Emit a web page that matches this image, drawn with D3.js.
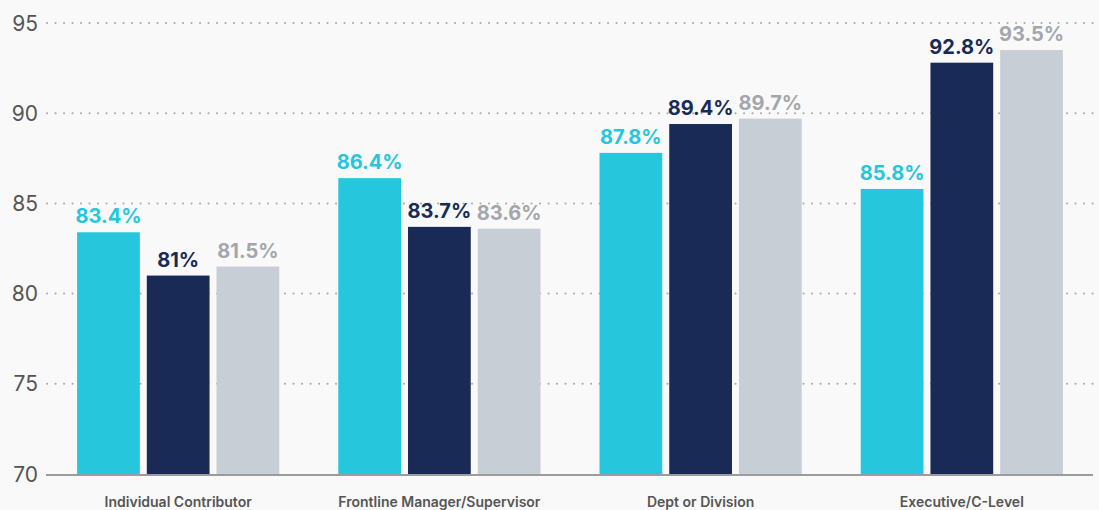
<!DOCTYPE html>
<html>
<head>
  <meta charset="utf-8">
  <script src="https://d3js.org/d3.v7.min.js"></script>
  <style>
    body { margin: 0; background: #f9f9f9; }
    svg { display: block; font-family: Inter, Roboto, "Noto Sans", sans-serif; }
  </style>
</head>
<body>
<svg id="chart"></svg>
<script>
  // data
  var categories = ["Individual Contributor", "Frontline Manager/Supervisor", "Dept or Division", "Executive/C-Level"];
  var seriesA = [83.4, 86.4, 87.8, 85.8];
  var seriesB = [81, 83.7, 89.4, 92.8];
  var seriesC = [81.5, 83.6, 89.7, 93.5];
  var yTicks = [70, 75, 80, 85, 90, 95];

  var series = [
    { key: "a", values: seriesA, fill: "#26c6dc", text: "#26c6dc" },
    { key: "b", values: seriesB, fill: "#182a55", text: "#182a55" },
    { key: "c", values: seriesC, fill: "#c7ced6", text: "#a3a7ab" }
  ];

  var width = 1099, height = 510;
  var mLeft = 46, mRight = 1094, mTop = 23, mBottom = 474;

  var svg = d3.select("#chart")
    .attr("width", width)
    .attr("height", height);

  svg.append("rect")
    .attr("width", width).attr("height", height)
    .attr("fill", "#f9f9f9");

  var y = d3.scaleLinear().domain([70, 95]).range([mBottom, mTop]);

  var x0 = d3.scaleBand()
    .domain(categories)
    .range([mLeft, mRight])
    .paddingInner(0.226)
    .paddingOuter(0.119);

  var x1 = d3.scaleBand()
    .domain(series.map(s => s.key))
    .range([0, x0.bandwidth()])
    .paddingInner(0.1);

  // dotted gridlines
  svg.append("g")
    .selectAll("line")
    .data(yTicks.filter(t => t > 70))
    .enter()
    .append("line")
    .attr("x1", mLeft + 1)
    .attr("x2", width - 2)
    .attr("y1", d => y(d))
    .attr("y2", d => y(d))
    .attr("stroke", "#a9a9a9")
    .attr("stroke-width", 2)
    .attr("stroke-linecap", "round")
    .attr("stroke-dasharray", "0.1,8.4");

  // y labels
  svg.append("g")
    .selectAll("text")
    .data(yTicks)
    .enter()
    .append("text")
    .attr("x", 38)
    .attr("y", d => y(d))
    .attr("dy", "0.36em")
    .attr("text-anchor", "end")
    .attr("fill", "#555")
    .style("font-size", "21px")
    .text(d => d);

  var groups = svg.append("g")
    .selectAll("g")
    .data(categories)
    .enter()
    .append("g")
    .attr("transform", d => "translate(" + x0(d) + ",0)");

  groups.selectAll("rect")
    .data((d, i) => series.map(s => ({ s: s, v: s.values[i] })))
    .enter()
    .append("rect")
    .attr("x", d => x1(d.s.key))
    .attr("width", x1.bandwidth())
    .attr("y", d => y(d.v))
    .attr("height", d => mBottom - y(d.v))
    .attr("fill", d => d.s.fill);

  groups.selectAll("text.val")
    .data((d, i) => series.map(s => ({ s: s, v: s.values[i] })))
    .enter()
    .append("text")
    .attr("class", "val")
    .attr("x", d => x1(d.s.key) + x1.bandwidth() / 2)
    .attr("y", d => y(d.v) - 9)
    .attr("text-anchor", "middle")
    .attr("fill", d => d.s.text)
    .style("font-size", "20px")
    .style("font-weight", "700")
    .text(d => d.v + "%");

  // baseline
  svg.append("line")
    .attr("x1", mLeft).attr("x2", 1093)
    .attr("y1", mBottom + 1).attr("y2", mBottom + 1)
    .attr("stroke", "#9c9c9c")
    .attr("stroke-width", 2);

  // category labels
  svg.append("g")
    .selectAll("text")
    .data(categories)
    .enter()
    .append("text")
    .attr("x", d => x0(d) + x0.bandwidth() / 2)
    .attr("y", 507)
    .attr("text-anchor", "middle")
    .attr("fill", "#555")
    .style("font-size", "14px")
    .style("font-weight", "600")
    .text(d => d);
</script>
</body>
</html>
